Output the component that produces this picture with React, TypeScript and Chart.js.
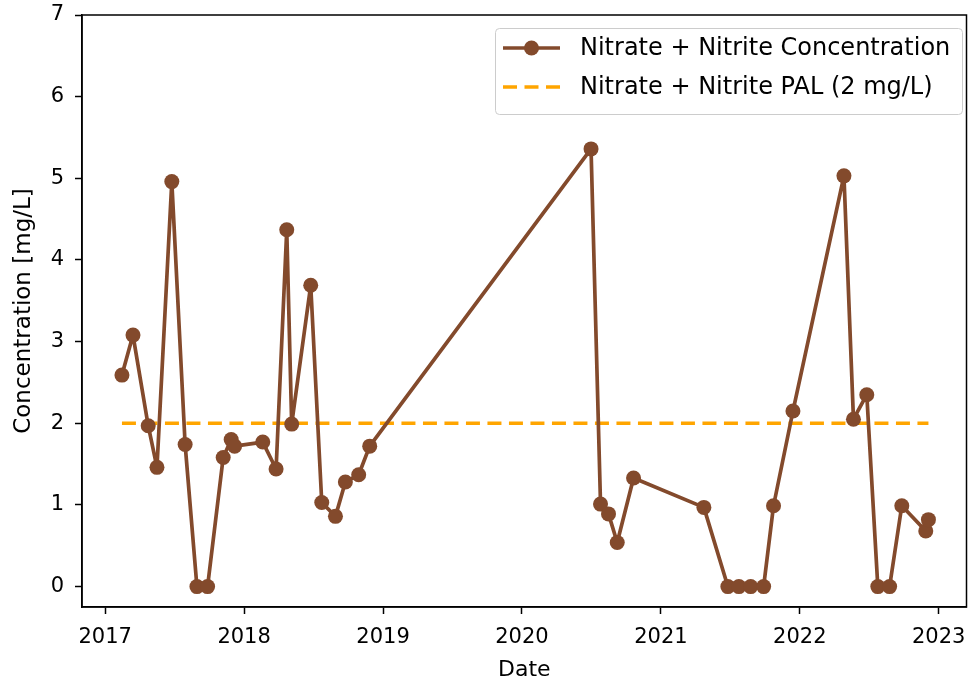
import React, { useEffect, useRef } from 'react';
import { Chart, registerables } from 'chart.js';

Chart.register(...registerables);

// ---- data ----
const sampleDates = [
  '2017-02-14', '2017-03-15', '2017-04-24', '2017-05-17', '2017-06-25', '2017-07-30',
  '2017-08-30', '2017-09-27', '2017-11-07', '2017-11-28', '2017-12-07',
  '2018-02-19', '2018-03-26', '2018-04-23', '2018-05-06', '2018-06-25', '2018-07-24',
  '2018-08-29', '2018-09-24', '2018-10-29', '2018-11-27',
  '2020-07-01', '2020-07-26', '2020-08-16', '2020-09-08', '2020-10-21',
  '2021-04-24', '2021-06-26', '2021-07-25', '2021-08-25', '2021-09-28', '2021-10-24', '2021-12-14',
  '2022-04-27', '2022-05-22', '2022-06-26', '2022-07-25', '2022-08-25', '2022-09-26',
  '2022-11-28', '2022-12-05',
];
const concentrations = [
  2.59, 3.08, 1.97, 1.46, 4.96, 1.74,
  0, 0, 1.58, 1.80, 1.72,
  1.77, 1.44, 4.37, 1.99, 3.69, 1.03,
  0.86, 1.28, 1.37, 1.72,
  5.36, 1.01, 0.89, 0.54, 1.33,
  0.97, 0, 0, 0, 0, 0.99, 2.15,
  5.03, 2.05, 2.35, 0, 0, 0.99,
  0.68, 0.82,
];
const palLevel = 2;
const yearTicks = [2017, 2018, 2019, 2020, 2021, 2022, 2023];
const concentrationTicks = [0, 1, 2, 3, 4, 5, 6, 7];
const seriesLabel = 'Nitrate + Nitrite Concentration';
const palLabel = 'Nitrate + Nitrite PAL (2 mg/L)';
const xTitle = 'Date';
const yTitle = 'Concentration [mg/L]';

const BROWN = '#834A2C';
const ORANGE = '#FFA500';
const FONT = 'DejaVu Sans';

function toYear(s: string): number {
  const [y, m, d] = s.split('-').map(Number);
  const start = Date.UTC(y, 0, 1);
  const end = Date.UTC(y + 1, 0, 1);
  return y + (Date.UTC(y, m - 1, d) - start) / (end - start);
}

const framePlugin = {
  id: 'frameAndLegend',
  afterDraw(chart: any) {
    const { ctx, chartArea } = chart;
    ctx.save();
    // spines
    ctx.strokeStyle = '#000';
    ctx.lineWidth = 1.5;
    ctx.strokeRect(chartArea.left, chartArea.top, chartArea.right - chartArea.left, chartArea.bottom - chartArea.top);

    // legend
    const bx = 495.5, by = 28.5, bw = 467, bh = 86;
    ctx.beginPath();
    ctx.roundRect(bx, by, bw, bh, 4);
    ctx.fillStyle = 'rgba(255,255,255,0.8)';
    ctx.fill();
    ctx.strokeStyle = '#cccccc';
    ctx.lineWidth = 1;
    ctx.stroke();

    const ds = chart.data.datasets;
    const rows = [48, 87];
    ds.forEach((d: any, i: number) => {
      const y = rows[i];
      ctx.beginPath();
      ctx.setLineDash(d.borderDash || []);
      ctx.lineWidth = d.borderWidth;
      ctx.strokeStyle = d.borderColor;
      ctx.moveTo(503, y);
      ctx.lineTo(560, y);
      ctx.stroke();
      ctx.setLineDash([]);
      if (d.pointRadius > 0) {
        ctx.beginPath();
        ctx.arc(531.5, y, d.pointRadius, 0, Math.PI * 2);
        ctx.fillStyle = d.pointBackgroundColor;
        ctx.fill();
      }
      ctx.fillStyle = '#000';
      ctx.font = `24px "${FONT}"`;
      ctx.textBaseline = 'middle';
      ctx.textAlign = 'left';
      ctx.fillText(d.label, 580, y + 1);
    });
    ctx.restore();
  },
};

export default function App() {
  const ref = useRef<HTMLCanvasElement | null>(null);

  useEffect(() => {
    document.body.style.margin = '0';
    document.body.style.overflow = 'hidden';
    const canvas = ref.current;
    if (!canvas) return;
    const xs = sampleDates.map(toYear);
    const points = xs.map((x, i) => ({ x, y: concentrations[i] }));
    const palPoints = [
      { x: xs[0], y: palLevel },
      { x: xs[xs.length - 1], y: palLevel },
    ];

    const chart = new Chart(canvas, {
      type: 'line',
      data: {
        datasets: [
          {
            label: seriesLabel,
            data: points,
            borderColor: BROWN,
            backgroundColor: BROWN,
            borderWidth: 3.7,
            borderJoinStyle: 'round',
            borderCapStyle: 'round',
            pointRadius: 7.5,
            pointBackgroundColor: BROWN,
            pointBorderWidth: 0,
            tension: 0,
            fill: false,
          },
          {
            label: palLabel,
            data: palPoints,
            borderColor: ORANGE,
            backgroundColor: ORANGE,
            borderWidth: 3.5,
            borderDash: [14, 7.5],
            pointRadius: 0,
            tension: 0,
            fill: false,
          },
        ],
      },
      options: {
        animation: false,
        responsive: false,
        devicePixelRatio: 1,
        layout: { padding: { top: 15, right: 2, left: 0, bottom: 0 } },
        plugins: {
          legend: { display: false },
          tooltip: { enabled: false },
        },
        scales: {
          x: {
            type: 'linear',
            min: 2016.833,
            max: 2023.2,
            afterBuildTicks: (axis: any) => {
              axis.ticks = yearTicks.map((v) => ({ value: v }));
            },
            afterFit: (axis: any) => {
              axis.height = 78;
              axis.paddingLeft = 0;
              axis.paddingRight = 0;
            },
            ticks: {
              autoSkip: false,
              maxRotation: 0,
              padding: 11,
              color: '#000',
              font: { family: FONT, size: 21 },
              callback: (v: any) => String(v),
            },
            grid: {
              display: true,
              drawOnChartArea: false,
              drawTicks: true,
              tickLength: 7,
              tickWidth: 1.5,
              tickColor: '#000',
            },
            border: { display: true, color: '#000', width: 1.5 },
            title: {
              display: true,
              text: xTitle,
              color: '#000',
              font: { family: FONT, size: 22 },
              padding: { top: 0, bottom: 2 },
            },
          },
          y: {
            type: 'linear',
            min: -0.25,
            max: 7,
            afterBuildTicks: (axis: any) => {
              axis.ticks = concentrationTicks.map((v) => ({ value: v }));
            },
            afterFit: (axis: any) => {
              axis.width = 82;
              axis.paddingTop = 0;
              axis.paddingBottom = 0;
            },
            ticks: {
              padding: 11,
              color: '#000',
              font: { family: FONT, size: 21 },
              callback: (v: any) => String(v),
            },
            grid: {
              display: true,
              drawOnChartArea: false,
              drawTicks: true,
              tickLength: 7,
              tickWidth: 1.5,
              tickColor: '#000',
            },
            border: { display: true, color: '#000', width: 1.5 },
            title: {
              display: true,
              text: yTitle,
              color: '#000',
              font: { family: FONT, size: 23 },
              padding: { top: 10, bottom: 0 },
            },
          },
        },
      },
      plugins: [framePlugin],
    } as any);

    return () => chart.destroy();
  }, []);

  return (
    <div style={{ width: 974, height: 685 }}>
      <canvas ref={ref} width={974} height={685} style={{ display: 'block' }} />
    </div>
  );
}
